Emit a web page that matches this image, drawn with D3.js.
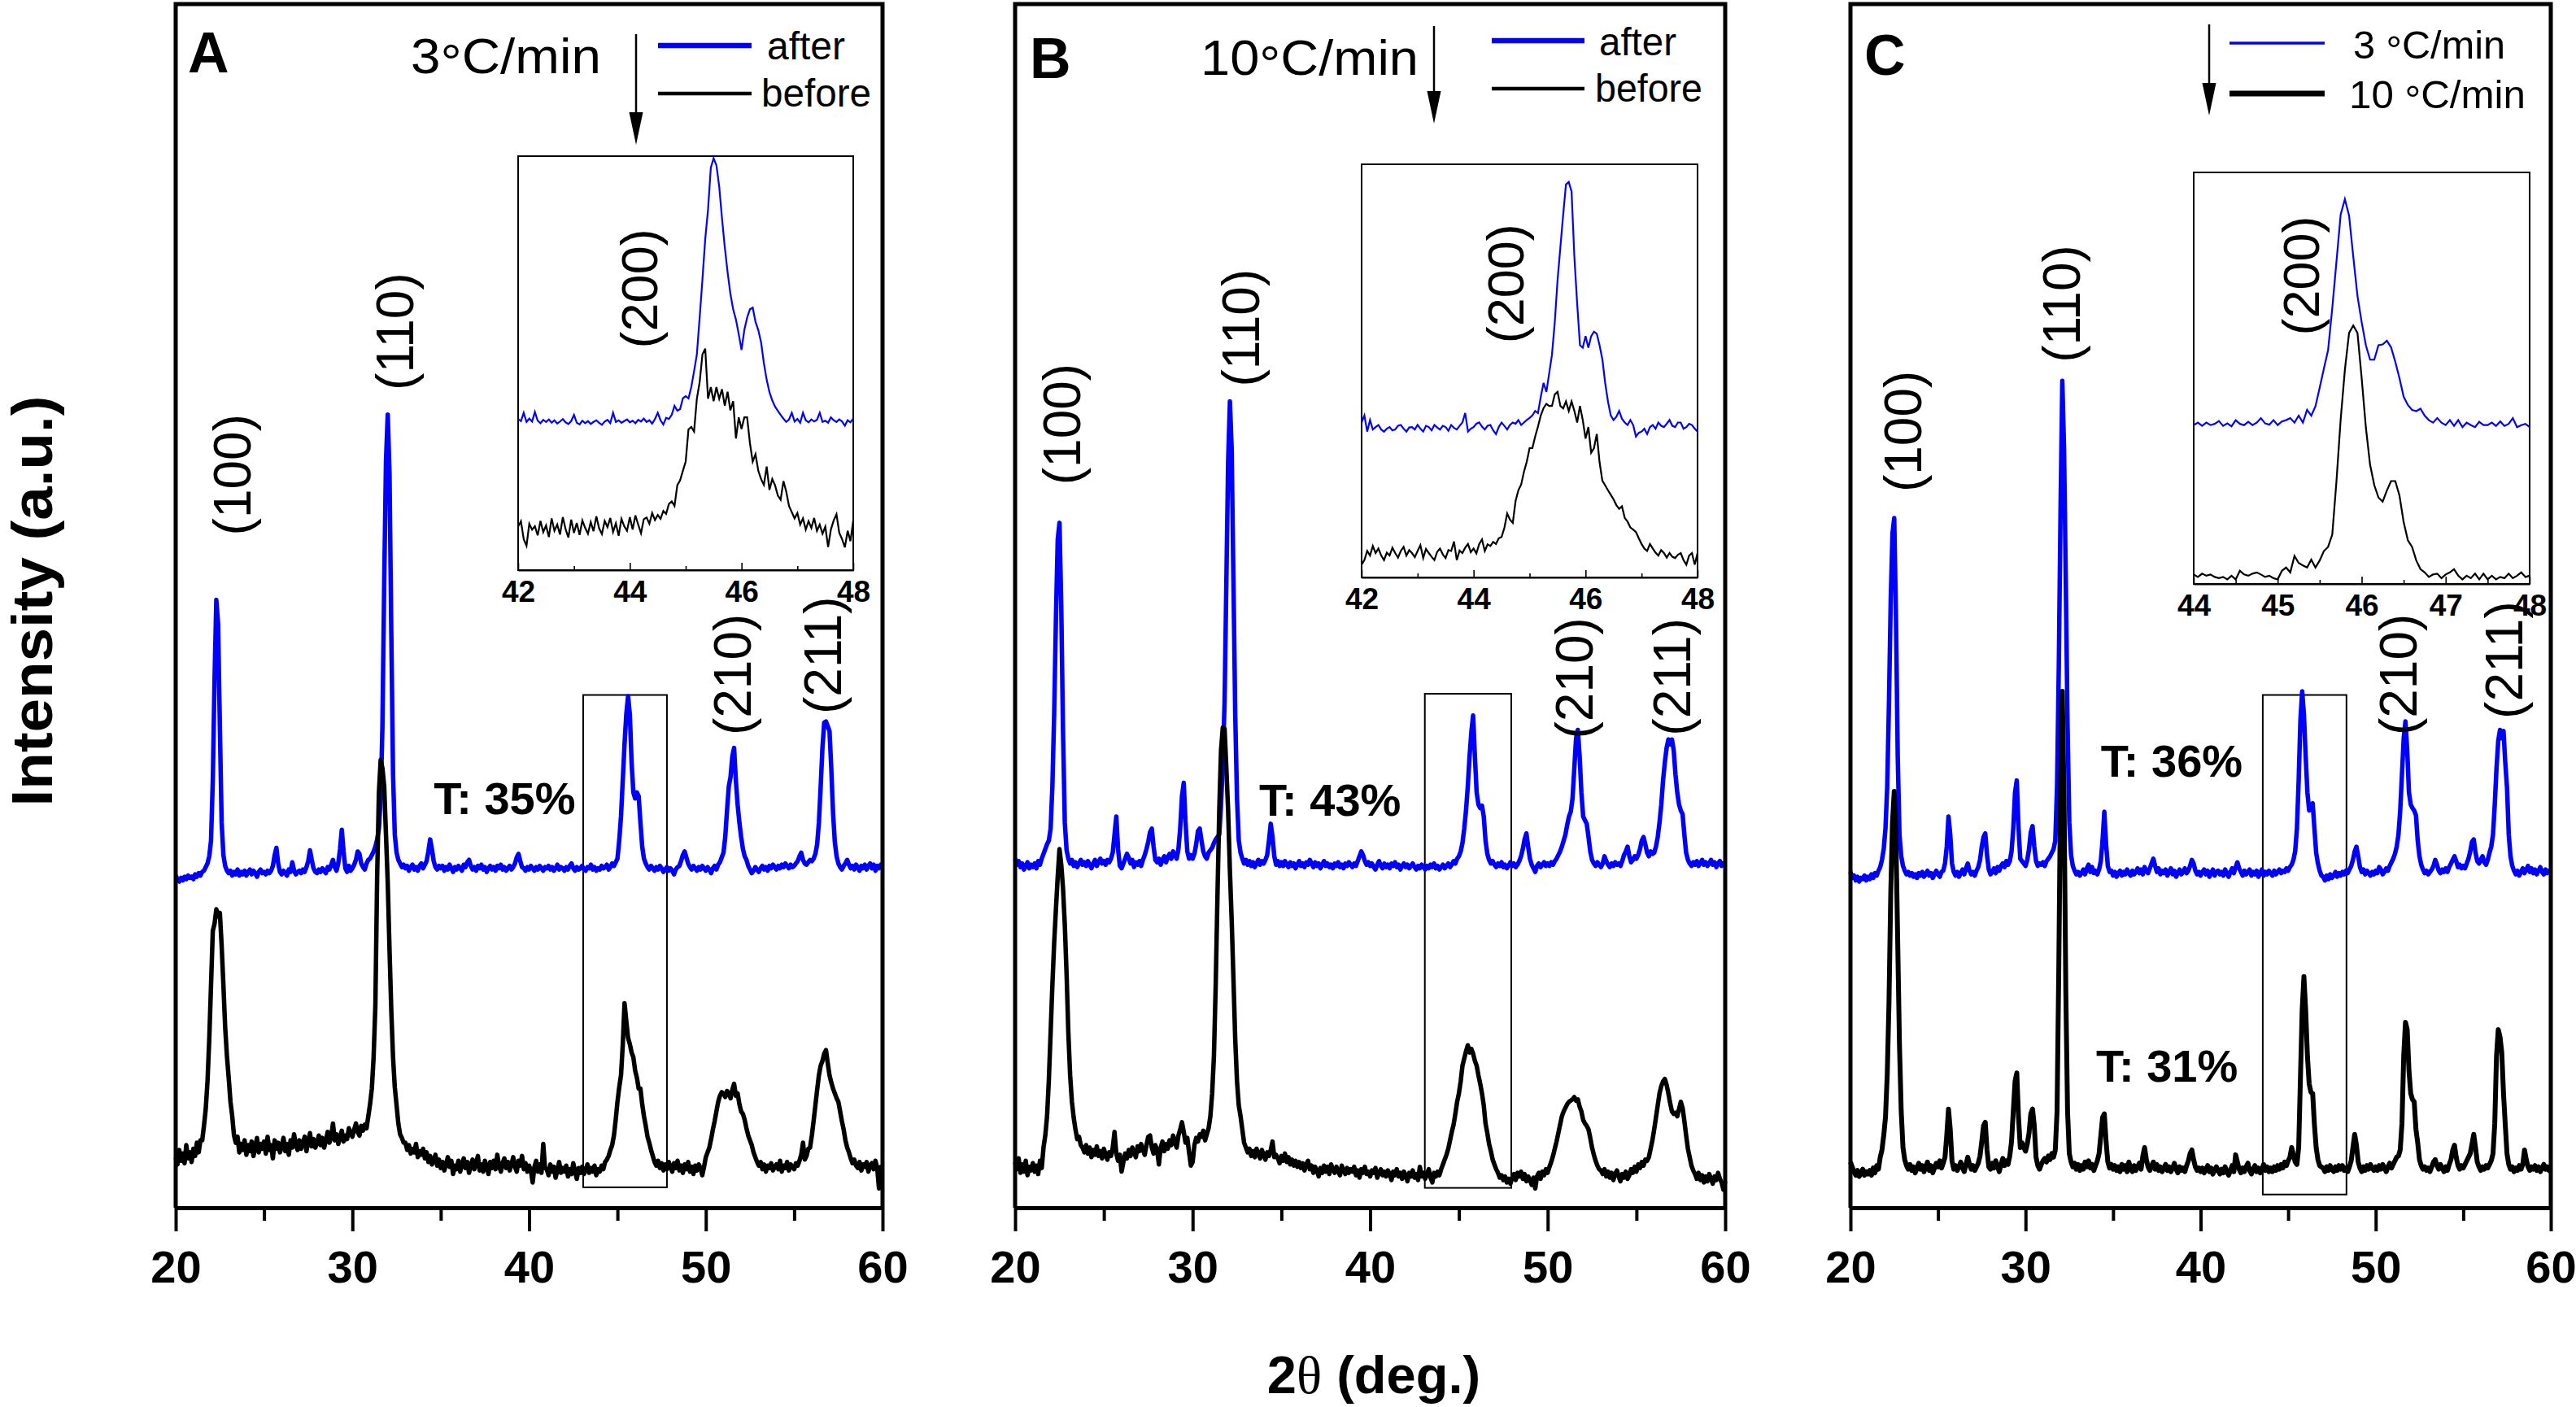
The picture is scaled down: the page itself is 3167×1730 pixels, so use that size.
<!DOCTYPE html>
<html>
<head>
<meta charset="utf-8">
<script src="https://cdn.jsdelivr.net/npm/d3@7"></script>
<style>
  body { margin: 0; background: #fff; overflow: hidden; }
  svg { display: block; }
  text { font-family: "Liberation Sans", Arial, sans-serif; fill: #000; }
</style>
</head>
<body>
<svg id="chart"></svg>
<script>
// XRD patterns, 2theta from 20 to 60 deg in 0.1 deg steps, intensity in a.u. (0 = axis, 100 = top of frame)
var mainStart = 20, mainStep = 0.1;

var aAfter = [
27.6,27.3,27.1,27.4,27.2,27.5,27.3,27.6,27.4,27.5,
27.3,27.7,27.5,27.8,27.6,27.9,28.0,28.3,28.6,29.2,
30.5,35.5,44.0,50.5,48.5,40.0,32.0,29.3,28.4,28.0,
27.8,28.0,27.6,27.9,27.7,28.1,27.6,27.9,27.7,28.0,
27.6,27.9,28.1,27.7,28.0,27.8,27.5,27.9,28.1,27.8,
27.9,27.7,28.0,27.8,28.0,28.4,29.3,29.9,28.6,27.9,
27.7,28.0,27.8,27.6,28.1,27.9,28.7,28.0,27.7,27.9,
28.0,27.8,28.1,27.9,28.3,28.8,29.7,28.9,28.2,27.9,
27.8,28.1,27.9,28.2,28.0,27.8,28.3,28.1,28.5,28.9,
28.3,28.0,28.6,29.8,31.4,29.6,28.2,27.9,28.4,28.0,
28.2,28.5,28.9,29.6,29.4,28.6,28.3,28.1,28.6,28.9,
29.0,29.3,29.6,30.0,30.6,31.5,34.0,40.0,52.0,62.0,
65.9,61.0,48.0,36.0,31.0,29.5,28.9,28.6,28.3,28.5,
28.2,28.4,28.0,28.3,28.5,28.1,28.3,28.0,28.4,28.6,
28.2,28.5,28.8,29.6,30.6,29.8,28.8,28.3,28.1,28.4,
28.2,28.4,28.0,28.3,28.1,28.5,28.2,27.9,28.3,28.1,
28.4,28.2,28.0,28.5,28.3,28.7,28.9,28.4,28.1,28.3,
28.0,28.4,28.2,28.5,28.1,28.3,27.9,28.2,28.4,28.1,
28.3,28.0,28.4,28.2,28.5,28.1,28.3,28.0,28.2,28.4,
28.1,28.3,28.6,29.1,29.4,28.8,28.3,28.2,28.0,28.3,
28.1,28.4,28.2,28.0,28.3,28.1,28.4,28.2,28.0,28.3,
28.2,28.4,28.1,28.3,28.0,28.2,28.5,28.1,28.3,28.2,
28.0,28.3,28.1,28.4,28.6,28.2,28.0,28.3,28.1,28.2,
28.4,28.1,28.0,28.3,28.2,28.5,28.1,28.3,28.0,28.2,
28.1,28.4,28.2,28.3,28.5,28.1,28.3,28.6,28.4,28.7,
29.0,30.5,32.5,35.5,38.5,41.0,42.5,41.0,37.0,34.5,
34.0,34.5,34.2,32.0,30.0,29.0,28.6,28.3,28.1,28.4,
28.2,28.0,28.3,28.1,28.4,28.2,27.9,28.1,28.3,28.0,
28.2,28.0,27.7,28.1,28.3,28.4,28.8,29.3,29.6,29.1,
28.6,28.3,28.1,28.4,28.2,28.0,28.3,28.1,28.4,28.2,
28.0,28.3,28.1,27.8,28.2,28.4,28.1,28.5,28.7,29.1,
29.5,30.8,33.0,35.0,35.8,37.5,38.2,35.5,33.5,32.0,
30.8,29.8,29.2,28.9,28.4,28.1,27.8,28.0,28.3,28.1,
27.9,28.2,28.4,28.1,28.3,28.0,28.4,28.2,28.5,28.3,
28.1,28.4,28.2,28.5,28.3,28.6,28.4,28.2,28.5,28.3,
28.4,28.6,28.8,29.2,29.5,28.9,28.6,28.5,28.7,28.9,
28.8,29.0,29.4,30.2,32.0,35.0,38.2,40.3,40.4,40.0,
39.6,36.5,32.8,30.4,29.2,28.6,28.3,28.1,28.4,28.6,
28.9,28.5,28.2,28.4,28.1,28.5,28.3,28.0,28.4,28.2,
28.5,28.1,28.4,28.6,28.2,28.5,28.0,28.4,28.2,28.5,
28.3];

var aBefore = [
4.2,3.6,4.8,3.9,4.5,3.7,5.2,4.1,4.6,3.8,
4.9,4.3,5.4,4.6,5.6,5.6,6.8,8.2,10.5,14.0,
18.5,23.0,23.6,24.8,24.2,24.5,21.8,18.5,15.0,12.6,
10.8,8.8,7.6,6.0,5.4,5.9,4.6,5.3,4.8,5.6,
4.4,5.2,4.7,5.5,4.3,5.0,5.8,4.6,5.3,4.9,
5.5,4.5,5.9,4.8,5.2,4.1,5.6,4.9,5.4,4.6,
5.1,5.8,4.7,5.3,4.4,5.6,5.0,6.1,5.2,4.8,
5.6,4.9,5.4,5.9,4.7,5.5,6.2,5.1,5.7,5.0,
5.4,6.0,5.2,5.8,5.0,5.6,6.3,5.4,5.9,7.0,
5.6,6.1,5.3,5.9,6.4,5.5,6.0,5.7,6.6,6.2,
5.9,6.5,7.0,6.3,6.0,6.8,6.4,6.9,6.6,7.6,
8.6,9.9,12.5,16.8,27.5,34.5,37.2,36.5,35.0,31.0,
27.0,21.5,16.4,12.5,10.0,8.5,7.0,6.1,5.8,5.4,
5.4,4.8,5.2,4.5,4.9,4.6,5.3,4.2,4.7,4.4,
4.9,4.1,4.6,3.8,4.3,3.6,3.9,4.4,3.5,4.0,
3.3,3.8,3.1,3.6,4.2,3.4,3.9,2.8,3.5,3.2,
3.9,3.0,3.6,4.1,3.3,3.8,2.9,3.5,4.0,3.2,
3.7,4.3,3.1,3.6,3.0,3.9,3.4,2.8,3.8,3.3,
3.9,3.2,4.4,3.5,3.0,3.7,4.1,3.3,3.8,3.1,
3.6,4.2,3.4,3.0,3.9,3.5,4.3,3.2,3.7,3.0,
3.5,3.1,2.1,3.4,3.9,3.0,3.6,2.9,5.3,3.3,
3.2,2.7,3.6,3.0,3.4,2.5,3.1,3.8,2.9,3.3,
3.0,3.5,2.6,3.2,2.8,3.7,3.0,2.4,3.3,2.9,
3.4,2.8,3.1,3.6,2.9,3.3,3.0,3.5,2.7,3.2,
3.0,3.5,3.2,3.8,4.0,4.3,4.8,5.2,6.0,7.3,
8.8,10.0,11.0,13.5,17.0,15.5,14.1,13.6,12.9,12.5,
11.4,10.8,9.9,9.9,8.6,7.6,6.8,5.9,5.4,4.8,
4.3,3.8,3.5,3.9,3.3,3.7,3.1,3.6,3.2,3.8,
3.4,3.0,3.7,3.3,3.9,3.1,3.5,2.9,3.6,3.2,
3.8,3.0,3.4,2.8,3.5,3.1,3.6,3.3,2.7,3.4,
4.2,4.6,5.0,5.7,6.5,7.2,8.0,8.8,9.3,9.6,
9.5,9.2,9.7,9.5,9.1,9.8,10.3,9.3,9.5,8.6,
8.0,7.8,7.3,6.6,6.0,5.6,5.2,4.6,4.2,3.8,
3.5,3.8,3.2,3.6,3.0,3.5,3.3,3.7,3.1,3.4,
3.6,3.2,3.9,3.0,3.5,3.3,3.8,3.1,3.6,3.4,
3.2,3.7,3.5,3.9,4.4,5.4,4.0,4.3,4.9,5.0,
6.0,7.2,8.5,9.8,11.0,11.8,12.2,12.8,13.1,12.0,
11.0,10.4,9.9,9.5,9.1,8.8,8.0,7.2,6.5,5.6,
5.0,4.6,4.1,3.7,4.0,3.5,3.3,3.8,3.1,3.6,
3.4,3.8,3.0,3.5,3.7,3.2,3.9,3.3,1.6,3.4,
3.2];

var bAfter = [
29.0,28.5,28.8,28.3,28.6,28.1,28.4,28.7,28.2,28.5,
28.3,28.6,28.2,28.8,28.5,29.0,29.4,29.8,30.2,30.5,
31.5,35.0,41.0,49.0,55.5,56.9,50.0,39.5,32.0,29.7,
29.0,28.6,28.9,28.4,28.7,28.3,28.6,28.9,28.5,28.7,
28.4,28.8,28.5,28.2,28.6,28.9,28.4,28.7,29.0,28.6,
28.8,28.5,28.9,28.7,29.0,29.5,31.0,32.5,29.8,28.4,
28.2,28.6,29.0,29.4,29.1,28.6,28.9,28.3,28.7,28.5,
28.8,28.4,28.9,29.3,29.8,30.4,31.2,31.5,30.0,28.9,
28.7,29.0,28.5,28.9,29.2,28.7,29.1,29.4,29.0,29.6,
29.3,29.0,29.8,31.5,34.2,35.3,32.0,29.6,29.0,29.3,
29.0,29.4,30.2,31.3,31.5,30.5,29.6,29.2,29.0,29.5,
29.7,29.9,30.3,30.6,30.8,31.0,33.5,37.0,42.0,52.0,
62.0,67.0,63.0,52.0,41.0,34.0,30.5,29.5,29.0,28.6,
28.9,28.5,28.8,28.4,28.7,28.3,28.6,28.9,28.5,28.8,
28.6,28.9,29.3,30.5,31.9,30.8,29.2,28.5,28.8,28.4,
28.7,28.4,28.8,28.5,28.3,28.7,28.4,28.6,28.2,28.5,
28.8,28.4,28.6,28.3,28.7,28.5,28.9,28.6,28.3,28.7,
28.4,28.6,28.2,28.5,28.8,28.4,28.6,28.3,28.5,28.2,
28.6,28.4,28.7,28.3,28.5,28.2,28.6,28.4,28.7,28.5,
28.3,28.6,28.4,28.8,29.2,29.6,29.3,28.8,28.5,28.7,
28.4,28.6,28.3,28.1,28.5,28.8,28.4,28.2,28.6,28.3,
28.5,28.2,28.6,28.4,28.7,28.3,28.5,28.1,28.4,28.6,
28.3,28.5,28.2,28.4,28.6,28.3,28.1,28.4,28.2,28.5,
28.3,28.1,28.4,28.2,28.5,28.3,28.6,28.2,28.4,28.1,
28.3,28.5,28.2,28.4,28.6,28.3,28.5,28.8,28.6,29.0,
29.2,29.6,30.3,31.5,33.0,35.0,37.5,39.5,40.9,37.5,
34.5,33.5,33.2,33.4,32.5,30.5,29.4,28.9,28.6,28.8,
28.5,28.3,28.6,28.4,28.7,28.3,28.5,28.2,28.4,28.7,
28.4,28.6,28.3,28.5,28.8,29.2,29.8,30.6,31.1,30.0,
29.0,28.5,28.2,27.9,28.4,28.6,28.3,28.5,28.7,28.4,
28.6,28.4,28.7,28.5,28.8,29.0,29.3,29.6,30.0,30.5,
31.0,31.8,32.5,32.9,34.0,36.5,39.0,39.7,37.5,34.5,
32.5,32.2,31.9,30.8,29.6,28.9,28.6,28.4,28.7,28.5,
28.3,28.6,29.2,28.8,28.5,28.3,28.6,28.4,28.7,28.5,
28.6,28.4,28.8,29.3,29.6,30.0,29.2,28.7,28.9,29.2,
29.0,29.3,29.8,30.5,30.8,30.2,29.5,29.2,29.6,29.4,
29.5,30.0,30.8,32.0,33.5,35.5,37.0,38.2,38.9,38.5,
38.9,38.0,36.0,34.5,33.5,33.0,32.7,31.0,29.5,28.9,
28.6,28.4,28.7,28.5,28.8,28.4,28.6,28.9,28.5,28.7,
28.4,28.6,28.9,28.5,28.7,28.3,28.6,28.8,28.4,28.6,
28.5];

var bBefore = [
3.8,3.2,4.1,2.9,3.6,3.0,3.9,2.7,3.4,3.1,
3.7,3.0,3.5,2.8,3.9,3.3,5.0,6.0,7.6,10.6,
14.5,18.5,22.0,24.8,27.5,29.8,28.5,26.5,23.5,19.4,
14.5,11.0,8.8,7.5,6.5,5.7,5.9,5.2,5.0,4.6,
5.2,4.5,5.0,4.2,4.8,4.4,5.1,4.3,4.7,4.1,
4.9,4.4,4.0,4.6,4.3,5.0,6.3,4.5,3.9,4.4,
3.0,3.8,4.5,4.1,4.8,4.3,5.0,4.6,4.2,5.1,
4.7,5.3,4.8,4.4,5.2,5.9,6.0,5.0,4.5,5.2,
4.8,3.6,5.0,5.5,4.7,5.3,4.9,5.6,5.2,6.0,
5.5,5.0,6.0,6.5,7.1,6.3,5.4,5.8,4.6,3.5,
3.8,5.2,5.8,5.5,6.1,5.9,6.4,5.6,6.1,6.6,
7.6,9.5,12.6,18.5,26.0,33.0,38.0,39.9,39.8,36.5,
33.0,28.0,23.9,19.0,14.0,10.5,8.5,7.6,6.5,5.4,
5.0,4.6,4.9,4.3,4.7,4.2,4.9,4.5,4.1,4.8,
4.4,4.0,4.6,4.3,4.8,5.5,4.2,4.4,4.1,3.7,
4.3,3.9,4.5,3.8,4.2,3.6,4.0,3.5,3.9,3.4,
3.8,3.3,3.7,3.1,3.6,3.9,3.2,3.5,2.9,3.4,
3.1,2.6,3.3,2.9,3.5,3.0,3.4,2.8,3.6,3.2,
2.9,3.4,3.0,2.7,3.5,3.1,2.8,3.3,2.9,3.2,
3.0,3.4,2.7,3.1,2.5,3.2,2.9,3.4,2.8,3.0,
2.6,3.1,2.9,3.3,2.5,2.9,3.2,2.7,3.0,2.6,
3.1,2.8,2.3,3.0,2.7,3.2,2.6,2.9,2.4,3.0,
2.7,2.2,2.9,2.6,3.1,2.5,2.8,2.3,3.4,2.6,
2.9,2.4,2.8,3.2,2.5,2.1,2.9,2.6,3.0,2.7,
3.2,3.6,4.0,4.4,4.9,5.6,6.3,6.9,7.8,8.8,
9.5,10.5,11.8,12.4,13.0,13.5,12.9,13.2,12.8,12.2,
11.8,11.0,10.3,9.5,8.5,7.0,6.2,5.3,4.7,4.0,
3.6,3.2,2.9,2.5,2.7,2.3,2.6,2.1,2.4,2.0,
2.5,2.8,2.3,2.9,2.6,3.0,2.4,2.8,2.2,2.6,
2.3,1.9,2.5,1.6,2.6,2.9,2.4,3.0,2.7,3.2,
2.9,3.4,3.8,4.3,4.9,5.5,6.2,6.9,7.6,8.0,
8.3,8.6,8.8,8.9,9.0,9.2,8.9,9.0,8.4,8.0,
7.3,7.0,6.8,6.5,5.8,5.0,4.4,3.9,3.5,3.2,
3.1,2.8,3.2,2.6,3.0,2.5,2.9,2.3,2.8,3.1,
2.6,2.2,2.8,2.5,3.0,2.4,2.7,3.2,2.9,3.4,
3.0,3.6,3.3,3.8,3.5,4.0,3.9,4.2,4.9,5.6,
6.5,7.5,8.5,9.5,10.1,10.5,10.7,10.2,9.5,8.7,
8.0,7.8,7.9,7.6,8.2,8.8,8.3,7.2,6.0,4.9,
4.2,3.5,3.1,2.8,2.4,2.9,2.3,2.7,2.1,2.6,
2.2,2.8,2.4,2.0,2.6,2.3,2.9,2.4,2.1,1.5,
2.2];

var cAfter = [
27.9,27.4,27.6,27.2,27.5,27.1,27.4,27.3,27.6,27.2,
27.5,27.3,27.7,27.4,27.8,27.6,28.0,28.3,28.9,29.8,
31.5,35.0,42.0,50.5,56.0,57.3,49.0,37.5,31.0,29.2,
28.4,28.0,27.7,27.9,27.6,27.8,27.5,27.7,27.4,27.8,
27.6,27.9,27.5,27.7,28.0,27.6,27.8,27.4,27.7,28.0,
27.7,27.5,27.9,28.0,28.6,30.0,32.5,31.0,28.6,27.9,
27.6,27.9,27.5,27.8,28.1,27.7,28.2,28.6,28.0,27.7,
27.9,27.6,28.0,28.3,28.9,30.0,30.8,31.1,29.3,28.1,
27.7,27.9,28.2,27.8,28.3,28.0,28.4,28.6,28.3,28.8,
28.5,28.8,29.6,31.5,34.5,35.5,31.5,29.0,28.8,28.6,
28.4,28.9,29.8,31.2,31.7,30.0,28.8,28.4,28.6,28.5,
28.7,28.4,28.8,29.0,29.2,29.5,29.8,30.5,35.0,45.0,
58.0,68.7,63.0,52.0,40.0,32.0,29.3,28.4,28.0,27.7,
27.9,27.6,27.8,28.1,27.7,28.2,28.5,27.9,28.3,27.8,
28.0,27.7,28.1,28.8,30.5,32.9,30.2,28.4,27.9,28.0,
27.6,27.9,27.5,27.8,28.0,27.6,27.9,27.7,28.1,27.8,
27.6,28.0,27.7,27.9,28.2,27.8,28.1,27.7,28.3,28.0,
27.8,28.2,28.6,29.0,28.4,27.9,28.2,27.7,28.0,27.8,
28.1,27.6,27.9,28.2,27.7,28.0,27.5,27.8,28.1,27.7,
27.9,28.2,27.8,28.0,28.4,28.9,28.6,28.0,27.7,27.9,
27.6,27.9,28.1,27.7,28.0,27.5,27.8,28.1,27.6,27.9,
28.0,27.7,27.9,27.6,28.1,27.8,27.5,27.9,28.2,27.8,
28.3,28.7,28.2,27.9,27.6,28.0,27.7,27.9,28.1,27.6,
27.9,27.7,28.0,27.5,27.8,28.1,27.6,27.9,27.7,28.0,
27.8,27.6,28.0,27.7,27.9,28.1,27.8,28.0,27.9,28.2,
28.0,28.3,28.5,28.9,29.6,31.5,35.5,40.5,42.9,41.0,
37.5,34.5,33.0,33.4,33.6,31.5,29.5,28.6,28.0,27.6,
27.5,27.2,27.6,27.3,27.7,27.4,27.6,27.9,27.5,27.8,
27.6,27.9,27.7,28.0,27.8,28.1,28.4,28.9,29.6,30.0,
29.2,28.3,27.9,28.1,27.7,28.0,27.8,27.6,27.9,27.7,
28.0,27.8,28.3,28.1,27.7,27.9,28.2,28.0,28.4,28.7,
29.0,29.4,30.0,31.0,33.0,36.0,39.0,40.4,38.0,34.5,
33.5,33.2,33.0,32.6,30.5,29.2,28.5,28.1,27.8,28.0,
27.7,27.9,28.1,28.4,28.9,28.5,28.0,27.8,28.1,27.9,
28.2,27.9,28.3,28.6,28.9,29.2,28.8,28.3,28.5,28.2,
28.4,28.2,28.6,29.0,29.6,30.4,30.6,29.5,28.8,28.6,
28.9,29.2,28.7,28.5,28.9,29.5,30.0,31.0,33.5,36.5,
38.8,39.7,39.0,39.6,37.0,34.9,31.0,29.2,28.4,28.0,
27.7,28.0,27.6,27.9,28.2,27.8,28.1,28.4,27.9,28.2,
27.8,28.1,27.7,28.0,28.3,27.9,27.7,28.1,27.8,28.0,
27.8];

var cBefore = [
3.8,3.4,3.0,2.7,3.1,2.6,2.9,3.2,2.7,3.0,
2.8,3.1,2.7,3.3,2.9,3.5,3.2,4.2,4.8,6.0,
7.5,11.0,17.0,26.0,32.0,34.6,30.5,22.0,13.5,8.0,
5.0,4.0,3.5,3.2,3.6,3.1,3.4,2.9,3.3,3.7,
3.2,3.5,3.0,3.4,3.8,3.1,3.5,2.9,3.3,3.7,
3.4,3.9,3.3,3.7,4.2,6.0,8.2,6.5,3.9,3.2,
3.5,3.1,3.4,3.8,3.3,3.0,3.6,4.2,3.6,3.2,
3.5,3.1,3.4,3.7,4.3,5.5,6.8,7.1,4.8,3.4,
3.2,3.7,3.3,3.9,3.4,3.0,3.6,4.1,3.5,3.9,
3.6,4.3,5.5,8.0,10.5,11.2,7.5,5.0,5.4,5.0,
4.7,5.3,6.2,7.8,8.2,6.8,4.2,3.5,3.2,3.6,
3.9,4.1,3.8,4.3,4.0,4.5,4.2,4.8,8.0,20.0,
35.0,42.9,34.0,18.0,8.0,4.5,3.8,3.4,3.7,3.2,
3.6,3.1,3.5,3.2,3.8,3.4,3.9,3.3,3.6,3.1,
3.5,3.9,4.5,6.0,7.5,7.8,5.5,3.8,3.3,3.6,
3.2,3.5,3.1,3.4,3.0,3.6,3.2,3.5,3.0,3.8,
3.3,3.0,3.5,3.1,3.4,3.7,3.2,4.3,5.0,4.0,
3.4,3.1,3.5,3.8,3.2,3.6,3.1,3.4,3.0,3.3,
3.6,3.1,3.4,3.0,3.3,3.7,3.2,2.9,3.4,3.1,
3.3,3.0,3.5,3.9,4.5,4.8,4.0,3.4,3.1,3.3,
3.0,3.3,2.9,3.2,3.5,3.0,3.3,2.8,3.1,3.4,
3.1,2.8,3.2,2.9,3.4,3.0,2.7,3.1,3.5,3.0,
4.4,3.8,3.2,2.9,3.3,3.0,3.4,3.7,3.1,2.8,
3.2,3.5,3.0,3.3,2.9,3.2,3.6,3.1,3.4,3.0,
3.3,3.0,3.4,3.1,3.5,3.2,3.6,3.3,3.8,3.5,
3.9,4.2,5.0,4.4,3.8,3.6,5.0,10.7,16.4,19.2,
16.4,12.6,10.3,9.6,9.5,6.9,5.0,4.0,3.5,3.4,
3.3,3.0,3.4,3.1,3.5,3.2,3.0,3.4,3.1,3.5,
3.2,3.5,3.1,3.3,3.0,3.4,3.9,5.0,6.1,5.2,
3.8,3.3,3.0,3.4,3.1,3.5,3.2,3.6,3.3,3.1,
3.4,3.1,3.5,3.2,3.6,3.3,3.0,3.4,3.7,3.3,
3.6,3.9,4.2,4.3,4.8,7.0,12.6,15.4,14.8,11.4,
9.5,9.0,8.8,6.5,5.4,4.0,3.5,3.2,3.4,3.1,
3.3,3.0,3.4,3.8,4.0,3.5,3.2,3.6,3.3,3.0,
3.4,3.1,3.6,4.0,4.8,5.2,4.2,3.5,3.2,3.5,
3.3,3.6,3.9,4.2,4.5,5.3,6.1,5.0,3.8,3.4,
3.1,3.4,3.2,3.5,3.3,3.6,3.9,4.5,7.0,12.6,
14.8,14.2,12.9,9.5,6.9,4.5,3.6,3.2,3.4,3.0,
3.3,3.1,3.5,3.2,3.6,4.8,4.0,3.4,3.1,3.4,
3.2,3.5,3.1,3.4,3.0,3.3,3.6,3.2,3.4,3.1,
3.3];

// (200) insets, 0.05 deg steps, intensity in a.u. (0 = inset bottom, 100 = inset top)
var insetStep = 0.05;

var insetAAfter = [
36.5,36.0,38.0,35.8,36.6,35.9,38.2,36.1,35.5,36.3,
35.8,36.4,35.6,36.2,35.4,35.9,36.5,35.7,35.3,36.0,
37.5,35.6,35.2,36.1,35.5,36.0,35.3,35.8,36.2,35.6,
35.1,35.9,36.3,35.5,38.0,35.8,36.2,35.6,36.0,36.4,
35.7,36.1,35.5,36.3,35.9,36.6,35.8,36.2,35.4,36.5,
38.0,36.2,35.2,36.8,36.5,37.5,39.7,38.5,38.9,41.5,
42.0,41.5,44.2,48.0,52.1,61.0,70.2,80.0,87.1,97.2,
99.5,97.8,92.7,85.0,78.0,72.0,66.8,63.0,60.5,57.0,
53.2,58.0,61.0,63.0,63.4,60.0,58.0,55.0,50.0,46.0,
43.0,41.0,39.5,38.5,37.5,36.6,35.8,36.4,38.0,35.9,
36.5,35.6,38.0,36.2,35.7,36.4,35.9,36.3,38.0,35.8,
36.1,35.6,36.9,36.2,35.8,36.4,35.9,34.9,36.2,35.7,
36.6];

var insetABefore = [
10.5,11.8,7.5,5.9,11.2,9.8,10.6,8.4,11.9,9.2,
10.8,8.0,12.5,9.5,11.0,8.6,12.8,9.9,7.9,12.2,
9.0,11.4,8.5,12.0,10.2,8.8,11.6,9.4,13.0,10.1,
8.7,11.9,10.4,12.6,9.2,11.3,8.3,12.4,10.6,9.5,
12.8,9.8,13.2,11.0,8.9,12.3,12.7,11.2,13.8,12.1,
13.3,12.4,14.3,13.6,16.0,16.6,15.5,20.5,21.7,24.0,
26.2,34.0,34.6,33.5,41.4,45.4,52.1,53.5,41.4,44.2,
40.8,44.2,41.4,43.7,39.7,43.1,38.6,40.8,31.8,36.9,
34.1,36.9,36.9,30.7,26.2,28.0,24.0,22.0,20.6,25.0,
19.4,22.0,20.5,18.0,17.0,21.5,19.0,15.5,14.0,12.5,
13.8,11.0,12.5,9.8,11.8,10.2,12.6,9.5,11.0,8.8,
10.5,5.6,9.8,12.0,13.5,9.0,7.5,5.5,9.5,7.0,
12.0];

var insetBAfter = [
37.5,39.2,35.3,38.1,35.8,36.4,36.9,35.8,35.3,36.0,
36.4,35.6,35.8,36.7,36.9,36.0,35.3,36.3,36.4,35.8,
36.9,36.0,35.3,36.7,36.4,35.6,36.9,36.3,35.8,36.7,
36.4,35.5,36.9,36.2,35.8,36.7,37.5,39.8,35.3,36.0,
36.4,37.2,37.5,36.5,35.8,36.7,36.9,35.6,34.7,36.4,
37.5,36.7,35.8,36.9,37.5,37.2,38.1,36.9,37.5,38.1,
38.6,39.2,40.3,39.8,43.7,47.1,44.9,49.4,53.9,61.8,
72.0,79.9,87.8,95.1,95.7,93.4,77.6,66.3,56.2,55.6,
58.4,55.6,58.4,59.5,59.0,56.2,52.8,47.1,42.6,39.2,
38.1,38.9,40.3,38.4,37.5,36.9,38.1,36.9,34.1,35.0,
35.3,36.0,34.7,36.4,36.9,36.0,37.5,36.7,36.4,37.2,
38.1,36.7,36.4,37.5,37.5,36.0,36.4,37.2,36.9,36.0,
35.3];

var insetBBefore = [
3.1,4.2,6.4,5.3,7.6,5.9,7.0,5.3,4.2,6.0,
5.3,7.2,5.9,4.8,6.4,7.4,5.3,6.6,5.9,4.9,
6.4,7.8,4.7,6.9,5.9,5.0,4.2,6.2,7.0,5.6,
4.7,6.6,6.4,8.7,4.2,6.5,5.9,7.2,8.1,6.1,
7.0,5.8,8.1,9.2,6.4,8.0,7.6,8.6,8.1,9.5,
9.8,12.0,15.5,14.0,13.2,18.5,21.1,22.5,25.6,28.0,
31.3,31.3,34.1,36.5,39.2,41.0,42.0,41.5,41.5,44.3,
44.9,41.5,40.9,42.6,40.3,42.6,40.3,37.5,41.5,38.1,
33.6,36.4,30.2,31.3,34.7,27.9,23.4,22.3,21.1,20.0,
18.9,17.5,16.6,17.2,14.4,13.5,12.1,11.6,11.0,9.5,
8.1,7.0,6.4,8.1,7.0,6.0,5.3,6.6,5.9,4.8,
5.9,5.0,4.7,5.5,5.9,4.2,3.1,5.3,5.9,3.1,
5.9];

var insetCAfter = [
38.6,39.2,38.4,39.2,38.6,38.9,39.6,38.4,39.0,38.3,
39.8,38.9,38.6,39.4,38.6,39.2,40.3,39.0,38.7,39.8,
38.6,39.5,39.8,40.3,39.2,40.9,39.2,42.3,40.9,43.2,
47.7,52.3,56.8,67.0,78.4,89.8,93.5,89.5,79.5,70.0,
63.6,58.0,54.5,54.5,58.0,58.2,59.1,57.5,54.0,50.0,
45.5,43.5,42.3,42.0,42.6,40.9,39.8,39.2,40.3,39.2,
38.6,39.8,38.4,39.8,38.1,39.2,38.6,38.1,39.4,38.6,
38.6,39.2,38.4,39.5,38.4,38.9,40.3,38.1,38.6,38.9,
38.1];

var insetCBefore = [
2.3,1.7,2.5,2.0,2.3,1.7,1.4,1.7,1.1,2.0,
1.1,3.2,2.3,2.0,2.5,2.8,2.3,1.7,2.0,1.4,
1.1,3.2,4.0,2.8,6.8,5.1,4.5,4.0,5.9,4.0,
5.7,8.0,9.0,12.0,25.0,40.0,52.0,61.0,62.8,61.0,
50.0,38.0,29.0,24.0,21.0,20.0,22.7,25.0,25.0,21.5,
15.0,10.6,9.0,5.7,3.6,2.8,1.7,2.3,2.5,1.4,
2.3,2.8,3.6,2.0,1.1,2.0,1.4,2.5,1.1,2.5,
1.1,2.0,1.1,1.7,1.4,2.5,1.4,2.0,2.8,1.7,
2.0];

// framed (200) regions in the main plots: [x0, x1, y0, y1]
var boxA = [43.06, 47.80, 1.7, 42.6];
var boxB = [43.08, 47.95, 1.65, 42.7];
var boxC = [43.55, 48.33, 1.1, 42.6];

// axis ticks
var mainDomain = [20, 60];
var mainTicks = [20, 30, 40, 50, 60];
var mainMinor = [25, 35, 45, 55];
var insetTicksAB = [42, 44, 46, 48];
var insetMinorAB = [43, 45, 47];
var insetTicksC = [44, 45, 46, 47, 48];
var insetMinorC = [44.5, 45.5, 46.5, 47.5];

// texts; rates are [value, separator before the degree ring]
var hklLabels = ["(100)", "(110)", "(210)", "(211)"];
var insetLabel = "(200)";
var legendAB = [["after"], ["before"]];
var legendC = [["3", " "], ["10", " "]];
var rateA = ["3", ""];
var rateB = ["10", ""];

// ---------------------------------------------------------------- layout
var W = 3167, H = 1730, TOP = 5, BOTTOM = 1485;
var BLUE = "#0000ff";

var panels = [
  {letter: "A", left: 216, right: 1085, after: aAfter, before: aBefore, box: boxA,
   hklPos: [[23.22, 60.9], [32.43, 72.8], [51.53, 44.3], [56.64, 45.9]],
   tLabels: [["T: 35%", 34.6, 32.7]],
   letterPos: [231, 89], rate: {t: rateA, x: 505, y: 90, len: 234}, arrow: [782, 42, 178],
   legend: {labels: legendAB, x0: 809, x1: 924, y: [56, 115], tx: [943, 936], ty: [73, 131],
            len: [96, 135], widths: [6.5, 4.5]},
   inset: {domain: [42, 48], left: 637, right: 1049, top: 192, bottom: 701,
           after: insetAAfter, before: insetABefore, ticks: insetTicksAB, minor: insetMinorAB, label: [44.17, 68.0]}},
  {letter: "B", left: 1248, right: 2121, after: bAfter, before: bBefore, box: boxB,
   hklPos: [[22.62, 65.1], [32.74, 73.1], [51.49, 44.0], [57.01, 44.1]],
   tLabels: [["T: 43%", 33.75, 32.6]],
   letterPos: [1266, 96], rate: {t: rateB, x: 1476, y: 92, len: 268}, arrow: [1763, 32, 152],
   legend: {labels: legendAB, x0: 1834, x1: 1948, y: [50, 109], tx: [1966, 1961], ty: [68, 125],
            len: [95, 132], widths: [6.5, 4.5]},
   inset: {domain: [42, 48], left: 1674, right: 2087, top: 202, bottom: 710,
           after: insetBAfter, before: insetBBefore, ticks: insetTicksAB, minor: insetMinorAB, label: [44.57, 71.1]}},
  {letter: "C", left: 2275, right: 3136, after: cAfter, before: cBefore, box: boxC,
   hklPos: [[23.02, 64.5], [32.08, 75.1], [51.31, 44.3], [57.34, 45.5]],
   tLabels: [["T: 36%", 34.3, 35.8], ["T: 31%", 34.03, 10.5]],
   letterPos: [2292, 92], rate: null, arrow: [2716, 30, 142],
   legend: {labels: legendC, x0: 2741, x1: 2858, y: [53, 115], tx: [2893, 2888], ty: [72, 133],
            len: [187, 217], widths: [3.5, 7]},
   inset: {domain: [44, 48], left: 2697, right: 3110, top: 212, bottom: 718,
           after: insetCAfter, before: insetCBefore, ticks: insetTicksC, minor: insetMinorC, label: [45.28, 74.9]}}
];

var svg = d3.select("#chart").attr("width", W).attr("height", H);

function series(vals, start, step) {
  return vals.map(function(v, i) { return [start + i * step, v]; });
}

// "3°C/min" with the degree ring sitting a little below cap height
function rateText(sel, r) {
  sel.append("tspan").text(r[0] + r[1]);
  sel.append("tspan").attr("dy", "0.13em").text("\u00b0");
  sel.append("tspan").attr("dy", "-0.13em").text("C/min");
}

function styleAxis(sel, width, fontSize) {
  sel.select(".domain").attr("stroke", "#000").attr("stroke-width", width);
  sel.selectAll(".tick line").attr("stroke", "#000").attr("stroke-width", width * 0.8);
  sel.selectAll(".tick text")
    .attr("font-family", "'Liberation Sans', Arial, sans-serif")
    .attr("font-weight", "bold")
    .attr("font-size", fontSize)
    .attr("fill", "#000");
}

function drawInset(g, r) {
  var x = d3.scaleLinear().domain(r.domain).range([r.left, r.right]);
  var y = d3.scaleLinear().domain([0, 100]).range([r.bottom, r.top]);
  var line = d3.line().x(function(d) { return x(d[0]); }).y(function(d) { return y(d[1]); });

  g.append("rect")
    .attr("x", r.left).attr("y", r.top)
    .attr("width", r.right - r.left).attr("height", r.bottom - r.top)
    .attr("fill", "#fff").attr("stroke", "#000").attr("stroke-width", 2);

  g.append("path").datum(series(r.after, r.domain[0], insetStep))
    .attr("d", line).attr("fill", "none").attr("stroke", BLUE).attr("stroke-width", 2.2);
  g.append("path").datum(series(r.before, r.domain[0], insetStep))
    .attr("d", line).attr("fill", "none").attr("stroke", "#000").attr("stroke-width", 2.2);

  var ax = g.append("g").attr("transform", "translate(0," + r.bottom + ")")
    .call(d3.axisBottom(x).tickValues(r.ticks).tickSizeInner(-9).tickSizeOuter(0)
      .tickPadding(13).tickFormat(d3.format("d")));
  styleAxis(ax, 2, 37);
  var mx = g.append("g").attr("transform", "translate(0," + r.bottom + ")")
    .call(d3.axisBottom(x).tickValues(r.minor).tickSizeInner(-5).tickSizeOuter(0).tickFormat(""));
  mx.select(".domain").remove();
  mx.selectAll(".tick line").attr("stroke", "#000").attr("stroke-width", 1.6);

  g.append("text")
    .attr("transform", "translate(" + x(r.label[0]) + "," + y(r.label[1]) + ") rotate(-90)")
    .attr("text-anchor", "middle").attr("dy", "0.35em")
    .attr("font-size", 63).text(insetLabel);
}

function drawPanel(p) {
  var x = d3.scaleLinear().domain(mainDomain).range([p.left, p.right]);
  var y = d3.scaleLinear().domain([0, 100]).range([BOTTOM, TOP]);
  var line = d3.line().x(function(d) { return x(d[0]); }).y(function(d) { return y(d[1]); });
  var g = svg.append("g");

  // framed region that the inset magnifies
  g.append("rect")
    .attr("x", x(p.box[0])).attr("y", y(p.box[3]))
    .attr("width", x(p.box[1]) - x(p.box[0])).attr("height", y(p.box[2]) - y(p.box[3]))
    .attr("fill", "none").attr("stroke", "#000").attr("stroke-width", 2);

  g.append("path").datum(series(p.after, mainStart, mainStep))
    .attr("d", line).attr("fill", "none").attr("stroke", BLUE)
    .attr("stroke-width", 5.5).attr("stroke-linejoin", "round");
  g.append("path").datum(series(p.before, mainStart, mainStep))
    .attr("d", line).attr("fill", "none").attr("stroke", "#000")
    .attr("stroke-width", p.letter === "C" ? 6 : 5.5).attr("stroke-linejoin", "round");

  // frame (left, top, right)
  g.append("path")
    .attr("d", "M" + p.left + "," + BOTTOM + "V" + TOP + "H" + p.right + "V" + BOTTOM)
    .attr("fill", "none").attr("stroke", "#000").attr("stroke-width", 5);

  // bottom axis
  var ax = g.append("g").attr("transform", "translate(0," + BOTTOM + ")")
    .call(d3.axisBottom(x).tickValues(mainTicks).tickSize(29).tickSizeOuter(0)
      .tickPadding(23).tickFormat(d3.format("d")));
  styleAxis(ax, 5, 56);
  var mx = g.append("g").attr("transform", "translate(0," + BOTTOM + ")")
    .call(d3.axisBottom(x).tickValues(mainMinor).tickSize(16).tickSizeOuter(0).tickFormat(""));
  mx.select(".domain").remove();
  mx.selectAll(".tick line").attr("stroke", "#000").attr("stroke-width", 4);

  // Miller indices
  hklLabels.forEach(function(t, i) {
    g.append("text")
      .attr("transform", "translate(" + x(p.hklPos[i][0]) + "," + y(p.hklPos[i][1]) + ") rotate(-90)")
      .attr("text-anchor", "middle").attr("dy", "0.35em")
      .attr("font-size", 64).text(t);
  });

  p.tLabels.forEach(function(t) {
    g.append("text").attr("x", x(t[1])).attr("y", y(t[2]))
      .attr("font-size", 56).attr("font-weight", "bold").text(t[0]);
  });

  drawInset(g, p.inset);

  // panel letter
  g.append("text").attr("x", p.letterPos[0]).attr("y", p.letterPos[1])
    .attr("font-size", 70).attr("font-weight", "bold").text(p.letter);

  if (p.rate) {
    var rt = g.append("text").attr("x", p.rate.x).attr("y", p.rate.y)
      .attr("font-size", 62).attr("textLength", p.rate.len).attr("lengthAdjust", "spacingAndGlyphs");
    rateText(rt, p.rate.t);
  }

  // arrow
  var a = p.arrow;
  g.append("line").attr("x1", a[0]).attr("x2", a[0]).attr("y1", a[1]).attr("y2", a[2] - 30)
    .attr("stroke", "#000").attr("stroke-width", 2.5);
  g.append("path")
    .attr("d", "M" + (a[0] - 8.5) + "," + (a[2] - 40) + "L" + (a[0] + 8.5) + "," + (a[2] - 40) + "L" + a[0] + "," + a[2] + "Z")
    .attr("fill", "#000");

  // legend
  var lg = p.legend;
  [BLUE, "#000"].forEach(function(c, i) {
    g.append("line").attr("x1", lg.x0).attr("x2", lg.x1).attr("y1", lg.y[i]).attr("y2", lg.y[i])
      .attr("stroke", c).attr("stroke-width", lg.widths[i]);
    var lt = g.append("text").attr("x", lg.tx[i]).attr("y", lg.ty[i])
      .attr("font-size", 48).attr("textLength", lg.len[i]).attr("lengthAdjust", "spacingAndGlyphs");
    if (lg.labels[i].length > 1) rateText(lt, lg.labels[i]);
    else lt.text(lg.labels[i][0]);
  });
}

panels.forEach(drawPanel);

// axis titles
svg.append("text")
  .attr("transform", "translate(64,739) rotate(-90)")
  .attr("text-anchor", "middle")
  .attr("font-size", 70).attr("font-weight", "bold")
  .attr("textLength", 505).attr("lengthAdjust", "spacingAndGlyphs")
  .text("Intensity (a.u.)");

var xt = svg.append("text").attr("x", 1689).attr("y", 1713)
  .attr("text-anchor", "middle").attr("font-size", 65).attr("font-weight", "bold");
xt.append("tspan").text("2");
xt.append("tspan").attr("font-family", "'Liberation Serif', 'Times New Roman', serif")
  .attr("font-weight", "normal").text("\u03b8");
xt.append("tspan").text(" (deg.)");
</script>
</body>
</html>
